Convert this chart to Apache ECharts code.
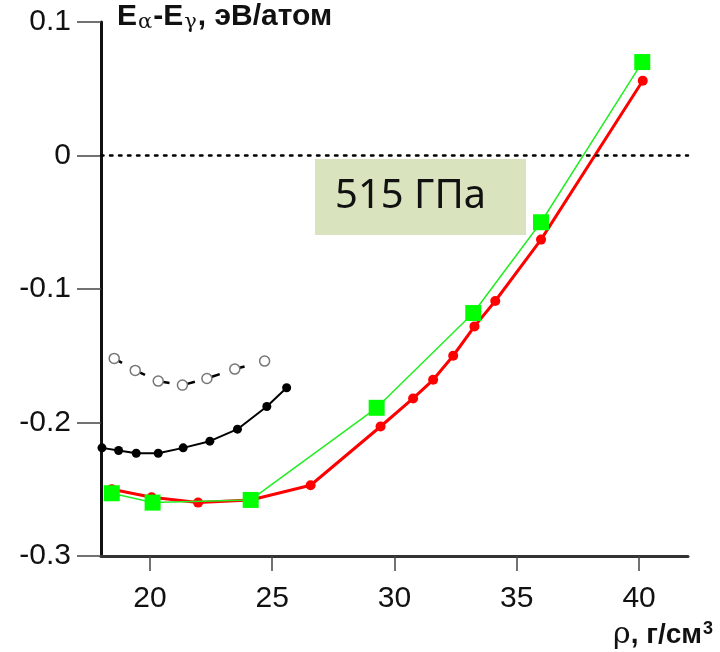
<!DOCTYPE html>
<html>
<head>
<meta charset="utf-8">
<script src="https://cdn.jsdelivr.net/npm/echarts@6/dist/echarts.min.js"></script>
<style>
  html, body { margin: 0; padding: 0; background: #fff; }
  #chart { width: 720px; height: 652px; }
</style>
</head>
<body>
<div id="chart"></div>
<script>
// Density ρ (g/cm³) and energy difference Eα−Eγ (eV/atom)
const openRho  = [18.54, 19.40, 20.34, 21.33, 22.33, 23.47, 24.69];
const openE    = [-0.152, -0.161, -0.169, -0.172, -0.167, -0.160, -0.154];

const blackRho = [18.04, 18.72, 19.44, 20.34, 21.36, 22.45, 23.58, 24.78, 25.59];
const blackE   = [-0.219, -0.221, -0.223, -0.223, -0.219, -0.214, -0.205, -0.188, -0.174];

const redRho   = [18.44, 20.07, 21.97, 24.12, 26.57, 29.43, 30.76, 31.58, 32.40, 33.27, 34.12, 35.99, 40.15];
const redE     = [-0.250, -0.256, -0.260, -0.258, -0.247, -0.203, -0.182, -0.168, -0.150, -0.128, -0.109, -0.063, 0.056];

const greenRho = [18.44, 20.11, 24.12, 29.27, 33.22, 35.99, 40.13];
const greenE   = [-0.253, -0.260, -0.258, -0.189, -0.118, -0.050, 0.070];

const xTicks = [20, 25, 30, 35, 40];
const pressureLabel = '515 ГПа';

const zip = (xs, ys) => xs.map((x, i) => [x, ys[i]]);

const chart = echarts.init(document.getElementById('chart'), null, { renderer: 'canvas' });

const labelFont = { fontFamily: 'Liberation Sans, Arial, sans-serif', fontSize: 30, color: '#111' };

chart.setOption({
  animation: false,
  backgroundColor: '#fff',
  grid: { left: 101, right: 32, top: 22, bottom: 96, outerBoundsMode: 'none' },
  xAxis: {
    type: 'value',
    min: 18,
    max: 42,
    axisLine: { show: true, onZero: false, lineStyle: { color: '#333', width: 3 } },
    axisTick: { show: true, length: 15, customValues: xTicks, lineStyle: { color: '#444', width: 1.5 } },
    axisLabel: Object.assign({ customValues: xTicks, margin: 28, formatter: v => String(v) }, labelFont),
    splitLine: { show: false }
  },
  yAxis: {
    type: 'value',
    min: -0.3,
    max: 0.1,
    interval: 0.1,
    axisLine: { show: true, onZero: false, lineStyle: { color: '#111', width: 3 } },
    axisTick: { show: true, length: 24, lineStyle: { color: '#444', width: 1.5 } },
    axisLabel: Object.assign({
      margin: 30,
      formatter: v => {
        const r = Math.round(v * 10) / 10;
        return r === 0 ? '0' : String(r);
      }
    }, labelFont),
    splitLine: { show: false }
  },
  series: [
    {
      name: 'zero',
      type: 'line',
      data: [],
      silent: true,
      markLine: {
        silent: true,
        symbol: 'none',
        label: { show: false },
        lineStyle: { color: '#000', width: 2.5, type: [2.5, 6.5], cap: 'round' },
        data: [{ yAxis: 0 }]
      },
      z: 1
    },
    {
      name: 'open',
      type: 'line',
      data: zip(openRho, openE),
      symbol: 'circle',
      symbolSize: 10,
      lineStyle: { color: '#000', width: 2.5, type: [9, 17] },
      itemStyle: { color: '#fff', borderColor: '#777', borderWidth: 1.5 },
      z: 3
    },
    {
      name: 'black',
      type: 'line',
      data: zip(blackRho, blackE),
      symbol: 'circle',
      symbolSize: 9,
      lineStyle: { color: '#000', width: 2 },
      itemStyle: { color: '#000' },
      z: 3
    },
    {
      name: 'red',
      type: 'line',
      data: zip(redRho, redE),
      symbol: 'circle',
      symbolSize: 10,
      lineStyle: { color: '#ff0000', width: 3 },
      itemStyle: { color: '#ff0000' },
      z: 4
    },
    {
      name: 'green',
      type: 'line',
      data: zip(greenRho, greenE),
      symbol: 'rect',
      symbolSize: 16,
      lineStyle: { color: '#22ee22', width: 1.5 },
      itemStyle: { color: '#00ff00' },
      z: 5
    }
  ],
  graphic: [
    {
      type: 'text',
      left: 117,
      top: 2,
      style: {
        text: '{b|E}{s|α}{b|-E}{s|γ}{b|, эВ/атом}',
        rich: {
          b: { fontFamily: 'Liberation Sans, Arial, sans-serif', fontWeight: 'bold', fontSize: 30, fill: '#111' },
          s: { fontFamily: 'DejaVu Serif, serif', fontSize: 21, fill: '#111', padding: [12, 1, 0, 1] }
        }
      }
    },
    {
      type: 'text',
      right: 7,
      top: 620,
      style: {
        text: '{r|ρ}{b|, г/см}{p|3}',
        rich: {
          r: { fontFamily: 'DejaVu Serif, serif', fontSize: 30, fill: '#111' },
          b: { fontFamily: 'Liberation Sans, Arial, sans-serif', fontWeight: 'bold', fontSize: 28, fill: '#111' },
          p: { fontFamily: 'Liberation Sans, Arial, sans-serif', fontWeight: 'bold', fontSize: 18, fill: '#111', padding: [0, 0, 12, 1] }
        }
      }
    },
    {
      type: 'group',
      left: 315,
      top: 159,
      children: [
        { type: 'rect', shape: { x: 0, y: 0, width: 211, height: 76 }, style: { fill: '#d9e4bf' } },
        {
          type: 'text',
          x: 20,
          y: 38,
          style: {
            text: pressureLabel,
            fontFamily: 'Noto Sans, Open Sans, sans-serif',
            fontSize: 40,
            fill: '#111',
            verticalAlign: 'middle'
          }
        }
      ]
    }
  ]
});
</script>
</body>
</html>
